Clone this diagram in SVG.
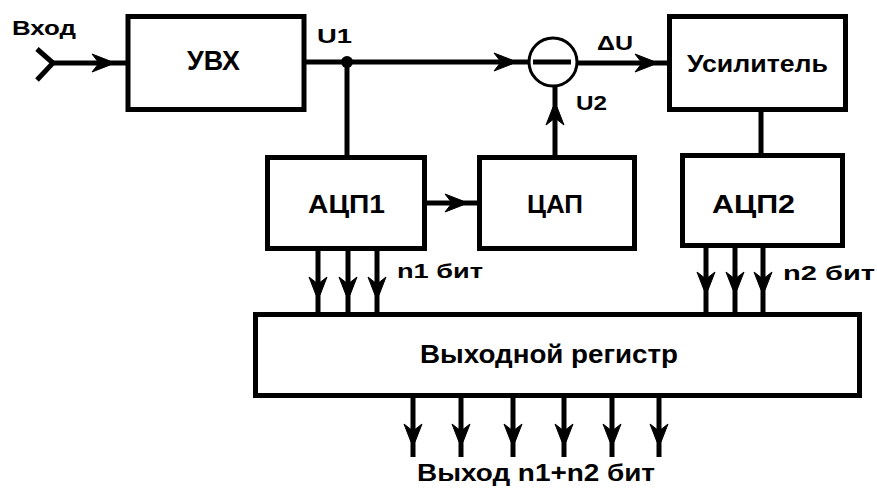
<svg xmlns="http://www.w3.org/2000/svg" width="877" height="488" viewBox="0 0 877 488">
<style>
.box{fill:#fff;stroke:#000;stroke-width:5}
.ln{fill:none;stroke:#000;stroke-width:5}
.t{font-family:"Liberation Sans",Arial,sans-serif;font-weight:bold;fill:#000}
.big{font-size:25px}
.sm{font-size:20px}
</style>
<defs>
<path id="ah" d="M-18,-9 L-11,0 L-18,9 L0,2 L0,-2 Z" fill="#000" stroke="#000" stroke-width="1" stroke-linejoin="miter"/>
</defs>
<rect width="877" height="488" fill="#fff"/>
<g id="connectors">
<polyline class="ln" points="37,49 53,63 37,80"/>
<line class="ln" x1="53" y1="63" x2="128" y2="63"/>
<use href="#ah" transform="translate(110,63)"/>
<line class="ln" x1="306" y1="62" x2="529" y2="62"/>
<use href="#ah" transform="translate(512,62)"/>
<circle cx="347" cy="62" r="6" fill="#000"/>
<line class="ln" x1="347" y1="62" x2="347" y2="157"/>
<line class="ln" x1="577" y1="63" x2="669" y2="63"/>
<use href="#ah" transform="translate(653,63)"/>
<line class="ln" x1="555" y1="157" x2="555" y2="86"/>
<use href="#ah" transform="translate(555,107) rotate(-90)"/>
<line class="ln" x1="761" y1="111" x2="761" y2="155"/>
<line class="ln" x1="427" y1="203" x2="479" y2="203"/>
<use href="#ah" transform="translate(463,203)"/>
<g>
<line class="ln" x1="318" y1="250" x2="318" y2="314"/>
<line class="ln" x1="348" y1="250" x2="348" y2="314"/>
<line class="ln" x1="377" y1="250" x2="377" y2="314"/>
<use href="#ah" transform="translate(318,295) rotate(90)"/>
<use href="#ah" transform="translate(348,295) rotate(90)"/>
<use href="#ah" transform="translate(377,295) rotate(90)"/>
</g>
<g>
<line class="ln" x1="706" y1="247" x2="706" y2="314"/>
<line class="ln" x1="735" y1="247" x2="735" y2="314"/>
<line class="ln" x1="763" y1="247" x2="763" y2="314"/>
<use href="#ah" transform="translate(706,290) rotate(90)"/>
<use href="#ah" transform="translate(735,290) rotate(90)"/>
<use href="#ah" transform="translate(763,290) rotate(90)"/>
</g>
<g>
<line class="ln" x1="413" y1="397" x2="413" y2="457"/>
<line class="ln" x1="461" y1="397" x2="461" y2="457"/>
<line class="ln" x1="513" y1="397" x2="513" y2="457"/>
<line class="ln" x1="564" y1="397" x2="564" y2="457"/>
<line class="ln" x1="612" y1="397" x2="612" y2="457"/>
<line class="ln" x1="659" y1="397" x2="659" y2="457"/>
<use href="#ah" transform="translate(413,442) rotate(90)"/>
<use href="#ah" transform="translate(461,442) rotate(90)"/>
<use href="#ah" transform="translate(513,442) rotate(90)"/>
<use href="#ah" transform="translate(564,442) rotate(90)"/>
<use href="#ah" transform="translate(612,442) rotate(90)"/>
<use href="#ah" transform="translate(659,442) rotate(90)"/>
</g>
</g>
<g id="input-label"><text class="t sm" x="12" y="35" textLength="64" lengthAdjust="spacingAndGlyphs">Вход</text></g>
<g id="uvx">
<rect class="box" x="128" y="16.5" width="176" height="93"/>
<text class="t" x="187" y="70" font-size="27" textLength="53" lengthAdjust="spacingAndGlyphs">УВХ</text>
</g>
<text class="t" x="317" y="43" font-size="21" textLength="35" lengthAdjust="spacingAndGlyphs">U1</text>
<g id="subtractor">
<circle cx="553" cy="62" r="24" fill="#fff" stroke="#000" stroke-width="3"/>
<line x1="533" y1="62" x2="571" y2="62" stroke="#000" stroke-width="5"/>
</g>
<text class="t" x="597" y="50" font-size="21" textLength="36" lengthAdjust="spacingAndGlyphs">ΔU</text>
<text class="t" x="576" y="110" font-size="21" textLength="31" lengthAdjust="spacingAndGlyphs">U2</text>
<g id="amp">
<rect class="box" x="669.5" y="16.5" width="176" height="93"/>
<text class="t" x="687" y="72" font-size="23" textLength="141" lengthAdjust="spacingAndGlyphs">Усилитель</text>
</g>
<g id="adc1">
<rect class="box" x="267.5" y="157.5" width="157" height="91"/>
<text class="t big" x="308" y="213" textLength="77" lengthAdjust="spacingAndGlyphs">АЦП1</text>
</g>
<g id="dac">
<rect class="box" x="479.5" y="157.5" width="155" height="91"/>
<text class="t big" x="527" y="213" textLength="56" lengthAdjust="spacingAndGlyphs">ЦАП</text>
</g>
<g id="adc2">
<rect class="box" x="682.5" y="155.5" width="160" height="90"/>
<text class="t big" x="712" y="213" textLength="83" lengthAdjust="spacingAndGlyphs">АЦП2</text>
</g>
<text class="t" x="397" y="278" font-size="21" textLength="86" lengthAdjust="spacingAndGlyphs">n1 бит</text>
<text class="t" x="783" y="280" font-size="21" textLength="92" lengthAdjust="spacingAndGlyphs">n2 бит</text>
<g id="register">
<rect class="box" x="255.5" y="314.5" width="604" height="81"/>
<text class="t big" x="420" y="363" textLength="258" lengthAdjust="spacingAndGlyphs">Выходной регистр</text>
</g>
<g id="output-label"><text class="t" x="417" y="481" font-size="24" textLength="238" lengthAdjust="spacingAndGlyphs">Выход n1+n2 бит</text></g>
</svg>
